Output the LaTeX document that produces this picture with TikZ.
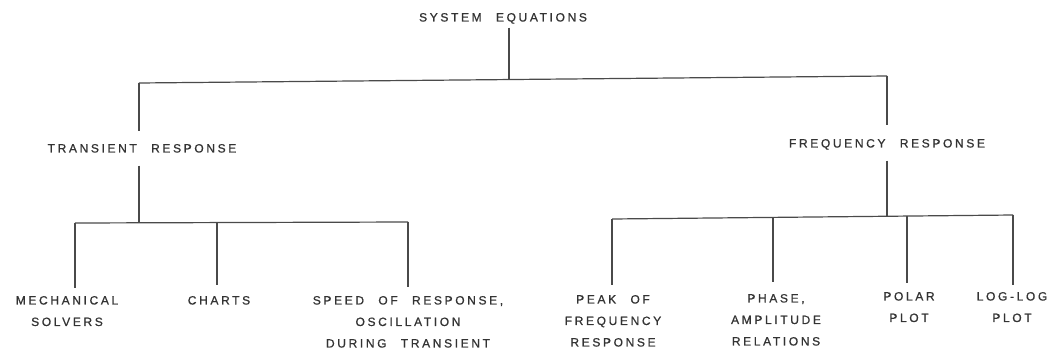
\documentclass[tikz,border=0pt]{standalone}
\usepackage{fontspec}
\newfontfamily\lettering[LetterSpace=22,WordSpace=2.4,FakeBold=0.8]{Liberation Sans}
\definecolor{textgray}{HTML}{333333}
\definecolor{linegray}{HTML}{4A4A4A}
\begin{document}
\begin{tikzpicture}[x=1pt,y=-1pt,
  lbl/.style={font=\lettering\fontsize{12}{21.5}\selectfont, text=textgray,
              inner sep=0pt, anchor=north, align=center},
  one/.style={lbl, text depth=0pt},
  ln/.style={draw=linegray, line width=1.2pt}]
\useasboundingbox[fill=white] (0,0) rectangle (1051,351);

% labels
\node[one] (SE) at (503,12.9) {SYSTEM EQUATIONS};
\node[one] (TR) at (142,143.9) {TRANSIENT RESPONSE};
\node[one] (FR) at (887,138.9) {FREQUENCY RESPONSE};
\node[lbl] (MS) at (67,295.9) {MECHANICAL\\SOLVERS};
\node[one] (CH) at (219,295.9) {CHARTS};
\node[lbl] (SR) at (408,295.9) {SPEED OF RESPONSE,\\OSCILLATION\\DURING TRANSIENT};
\node[lbl] (PK) at (613,294.9) {PEAK OF\\FREQUENCY\\RESPONSE};
\node[lbl] (PA) at (776,293.9) {PHASE,\\AMPLITUDE\\RELATIONS};
\node[lbl] (PO) at (909,291.9) {POLAR\\PLOT};
\node[lbl] (LL) at (1012,291.9) {LOG-LOG\\PLOT};

% junction points
\coordinate (t0) at (509,79.5);
\coordinate (tL) at (139,83);
\coordinate (tR) at (887,76);
\coordinate (lL) at (75,223);
\coordinate (lS) at (139,222.8);
\coordinate (lC) at (217,222.6);
\coordinate (lR) at (408,222);
\coordinate (rL) at (612,219);
\coordinate (rP) at (773,217.4);
\coordinate (rS) at (887,216.3);
\coordinate (rQ) at (907,216.1);
\coordinate (rR) at (1013,215);

% top level
\draw[ln] ([yshift=-6pt]SE.south -| t0) -- (t0);
\draw[ln] (tL) -- (tR);
\draw[ln] (tL) -- ([yshift=12.5pt]TR.north -| tL);
\draw[ln] (tR) -- ([yshift=13.5pt]FR.north -| tR);

% transient branch
\draw[ln] ([yshift=-13pt]TR.south -| lS) -- (lS);
\draw[ln] (lL) -- (lR);
\draw[ln] (lL) -- ([yshift=8pt]MS.north -| lL);
\draw[ln] (lC) -- ([yshift=11pt]CH.north -| lC);
\draw[ln] (lR) -- ([yshift=9pt]SR.north -| lR);

% frequency branch
\draw[ln] ([yshift=-13pt]FR.south -| rS) -- (rS);
\draw[ln] (rL) -- (rR);
\draw[ln] (rL) -- ([yshift=10pt]PK.north -| rL);
\draw[ln] (rP) -- ([yshift=12pt]PA.north -| rP);
\draw[ln] (rQ) -- ([yshift=9pt]PO.north -| rQ);
\draw[ln] (rR) -- ([yshift=7pt]LL.north -| rR);
\end{tikzpicture}
\end{document}
